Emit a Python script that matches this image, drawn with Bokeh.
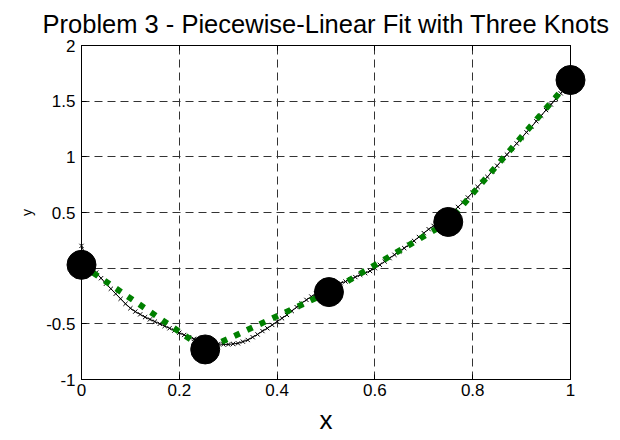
from bokeh.plotting import figure
from bokeh.models import Range1d, FixedTicker, LinearAxis
from bokeh.embed import file_html
from bokeh.resources import INLINE

# ---- data ----
x_data = [0.00, 0.01, 0.02, 0.03, 0.04, 0.05, 0.06, 0.07, 0.08, 0.09,
          0.10, 0.11, 0.12, 0.13, 0.14, 0.15, 0.16, 0.17, 0.18, 0.19,
          0.20, 0.21, 0.22, 0.23, 0.24, 0.25, 0.26, 0.27, 0.28, 0.29,
          0.30, 0.31, 0.32, 0.33, 0.34, 0.35, 0.36, 0.37, 0.38, 0.39,
          0.40, 0.41, 0.42, 0.43, 0.44, 0.45, 0.46, 0.47, 0.48, 0.49,
          0.50, 0.51, 0.52, 0.53, 0.54, 0.55, 0.56, 0.57, 0.58, 0.59,
          0.60, 0.61, 0.62, 0.63, 0.64, 0.65, 0.66, 0.67, 0.68, 0.69,
          0.70, 0.71, 0.72, 0.73, 0.74, 0.75, 0.76, 0.77, 0.78, 0.79,
          0.80, 0.81, 0.82, 0.83, 0.84, 0.85, 0.86, 0.87, 0.88, 0.89,
          0.90, 0.91, 0.92, 0.93, 0.94, 0.95, 0.96, 0.97, 0.98, 0.99,
          1.00]
y_data = [0.20, 0.10, 0.02, -0.04, -0.09, -0.14, -0.185, -0.23, -0.275, -0.32,
          -0.36, -0.39, -0.415, -0.44, -0.46, -0.48, -0.50, -0.52, -0.54, -0.56,
          -0.58, -0.60, -0.62, -0.635, -0.65, -0.66, -0.67, -0.675, -0.68, -0.685,
          -0.685, -0.68, -0.675, -0.66, -0.645, -0.62, -0.595, -0.565, -0.54, -0.51,
          -0.48, -0.45, -0.42, -0.385, -0.35, -0.315, -0.285, -0.255, -0.23, -0.21,
          -0.19, -0.17, -0.155, -0.135, -0.12, -0.10, -0.08, -0.06, -0.045, -0.025,
          0.00, 0.03, 0.06, 0.09, 0.12, 0.15, 0.18, 0.21, 0.245, 0.28,
          0.315, 0.35, 0.38, 0.41, 0.44, 0.47, 0.51, 0.55, 0.59, 0.635,
          0.68, 0.73, 0.775, 0.82, 0.87, 0.92, 0.97, 1.02, 1.07, 1.12,
          1.17, 1.22, 1.27, 1.32, 1.37, 1.42, 1.47, 1.52, 1.57, 1.62,
          1.67]
knot_x = [0.0, 0.253, 0.506, 0.75, 1.0]
knot_y = [0.03, -0.73, -0.215, 0.415, 1.69]

x_ticks = [0, 0.2, 0.4, 0.6, 0.8, 1]
x_tick_labels = ["0", "0.2", "0.4", "0.6", "0.8", "1"]
y_ticks = [-1, -0.5, 0, 0.5, 1, 1.5, 2]
y_tick_labels = ["-1", "-0.5", "", "0.5", "1", "1.5", "2"]

TITLE = "Problem 3 - Piecewise-Linear Fit with Three Knots"
FONT = "Liberation Sans"

p = figure(width=616, height=438, output_backend="svg", toolbar_location=None,
           x_range=Range1d(0, 1), y_range=Range1d(-1, 2),
           min_border_left=81, min_border_right=46, min_border_top=45,
           min_border_bottom=59, background_fill_color="white",
           border_fill_color="white")

p.title.text = TITLE
p.title.text_font = FONT
p.title.text_font_size = "25.5px"
p.title.text_font_style = "normal"
p.title.text_color = "black"
p.title.align = "center"
p.title.vertical_align = "top"
p.title.standoff = 12

p.outline_line_color = "black"
p.outline_line_width = 1
p.outline_line_alpha = 1

# bottom / left axes
for ax, ticks, labels in ((p.xaxis[0], x_ticks, x_tick_labels),
                          (p.yaxis[0], y_ticks, y_tick_labels)):
    ax.ticker = FixedTicker(ticks=ticks)
    ax.major_label_overrides = dict(zip(ticks, labels))
    ax.major_tick_in = 5
    ax.major_tick_out = 0
    ax.minor_tick_in = 0
    ax.minor_tick_out = 0
    ax.axis_line_color = "black"
    ax.major_tick_line_color = "black"
    ax.major_label_text_font = FONT
    ax.major_label_text_font_size = "17px"
    ax.major_label_text_color = "black"
    ax.axis_label_text_font = FONT
    ax.axis_label_text_font_style = "normal"
    ax.axis_label_text_color = "black"

p.xaxis[0].axis_label = "x"
p.xaxis[0].axis_label_text_font_size = "26px"
p.xaxis[0].major_label_standoff = 4
p.xaxis[0].axis_label_standoff = 6

p.yaxis[0].axis_label = "y"
p.yaxis[0].axis_label_text_font_size = "14px"
p.yaxis[0].major_label_standoff = 6
p.yaxis[0].axis_label_standoff = 8

# top / right axes: ticks only
top = LinearAxis(ticker=FixedTicker(ticks=x_ticks),
                 major_label_overrides={t: "" for t in x_ticks})
right = LinearAxis(ticker=FixedTicker(ticks=y_ticks),
                   major_label_overrides={t: "" for t in y_ticks})
for ax in (top, right):
    ax.major_tick_in = 5
    ax.major_tick_out = 0
    ax.minor_tick_in = 0
    ax.minor_tick_out = 0
    ax.major_label_standoff = 0
    ax.major_label_text_font_size = "1px"
p.add_layout(top, "above")
p.add_layout(right, "right")

# grids
p.xgrid.ticker = FixedTicker(ticks=x_ticks)
p.ygrid.ticker = FixedTicker(ticks=y_ticks)
for g in (p.xgrid[0], p.ygrid[0]):
    g.grid_line_color = "#333333"
    g.grid_line_dash = "8 5"
    g.grid_line_width = 1
    g.grid_line_alpha = 1

# data curve with x markers
r1 = p.line(x_data, y_data, line_color="black", line_width=1)
r2 = p.scatter(x_data, y_data, marker="x", size=6, line_color="black", line_width=1)
# piecewise-linear fit (green dotted)
r3 = p.line(knot_x, knot_y, line_color="#008000", line_width=6,
            line_dash="6 8", line_cap="butt")
# knots
r4 = p.scatter(knot_x, knot_y, marker="circle", size=29,
               fill_color="black", line_color="black")
for r in (r1, r2, r3, r4):
    r.level = "overlay"

open("out.html", "w").write(file_html(p, INLINE))
